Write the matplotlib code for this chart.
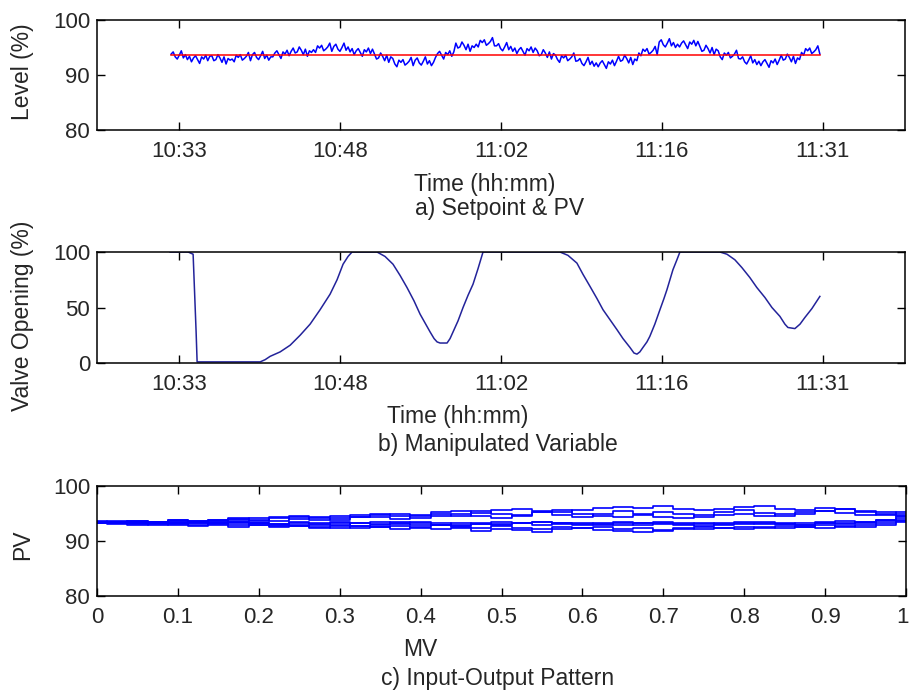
import numpy as np
import matplotlib.pyplot as plt
import matplotlib.transforms as mtransforms

plt.rcParams['font.family'] = ['Liberation Sans', 'DejaVu Sans']

# ---------------- data ----------------
# a) level PV (%) sampled evenly between t_start and t_end (minutes after 10:00)
t_start = 32.28
t_end = 90.73
setpoint = 93.7
pv = [93.8, 94.2, 93.3, 92.9, 93.6, 94.4, 93.1, 93.7, 92.8, 93.4,
      92.4, 93.1, 93.5, 92.8, 92.1, 93.3, 92.9, 93.6, 92.6, 93.4,
      93.5, 92.6, 92.8, 93.7, 93.1, 92.3, 93.3, 92.0, 93.0, 92.7,
      92.9, 92.4, 93.6, 93.2, 93.7, 92.7, 93.0, 93.4, 94.1, 92.6,
      93.7, 94.1, 93.2, 92.8, 93.5, 94.3, 93.0, 93.6, 92.7, 93.3,
      93.3, 94.0, 94.4, 93.7, 93.0, 94.2, 93.8, 94.5, 93.5, 94.3,
      94.9, 94.0, 94.2, 95.1, 94.5, 93.7, 94.7, 93.4, 94.4, 94.1,
      94.6, 94.1, 95.3, 94.9, 95.4, 94.4, 94.7, 95.1, 95.8, 94.3,
      95.2, 95.6, 94.7, 94.3, 95.0, 95.8, 94.5, 95.1, 94.2, 94.8,
      93.7, 94.4, 94.8, 94.1, 93.4, 94.6, 94.2, 94.9, 93.9, 94.7,
      93.8, 92.9, 93.1, 94.0, 93.4, 92.6, 93.6, 92.3, 93.3, 93.0,
      92.0, 91.5, 92.7, 92.3, 92.8, 91.8, 92.1, 92.5, 93.2, 91.7,
      92.7, 93.1, 92.2, 91.8, 92.5, 93.3, 92.0, 92.6, 91.7, 92.3,
      93.2, 93.9, 94.3, 93.6, 92.9, 94.1, 93.7, 94.4, 93.4, 94.2,
      95.8, 94.9, 95.1, 96.0, 95.4, 94.6, 95.6, 94.3, 95.3, 95.0,
      95.6, 95.1, 96.3, 95.9, 96.4, 95.4, 95.7, 96.1, 96.8, 95.3,
      95.3, 95.7, 94.8, 94.4, 95.1, 95.9, 94.6, 95.2, 94.3, 94.9,
      93.9, 94.6, 95.0, 94.3, 93.6, 94.8, 94.4, 95.1, 94.1, 94.9,
      94.4, 93.5, 93.7, 94.6, 94.0, 93.2, 94.2, 92.9, 93.9, 93.6,
      92.8, 92.3, 93.5, 93.1, 93.6, 92.6, 92.9, 93.3, 94.0, 92.5,
      92.6, 93.0, 92.1, 91.7, 92.4, 93.2, 91.9, 92.5, 91.6, 92.2,
      91.5, 92.2, 92.6, 91.9, 91.2, 92.4, 92.0, 92.7, 91.7, 92.5,
      93.4, 92.5, 92.7, 93.6, 93.0, 92.2, 93.2, 91.9, 92.9, 92.6,
      94.0, 93.5, 94.7, 94.3, 94.8, 93.8, 94.1, 94.5, 95.2, 93.7,
      96.0, 96.4, 95.5, 95.1, 95.8, 96.6, 95.3, 95.9, 95.0, 95.6,
      95.1, 95.8, 96.2, 95.5, 94.8, 96.0, 95.6, 96.3, 95.3, 96.1,
      95.2, 94.3, 94.5, 95.4, 94.8, 94.0, 95.0, 93.7, 94.7, 94.4,
      93.3, 92.8, 94.0, 93.6, 94.1, 93.1, 93.4, 93.8, 94.5, 93.0,
      92.9, 93.3, 92.4, 92.0, 92.7, 93.5, 92.2, 92.8, 91.9, 92.5,
      91.7, 92.4, 92.8, 92.1, 91.4, 92.6, 92.2, 92.9, 91.9, 92.7,
      93.6, 92.7, 92.9, 93.8, 93.2, 92.4, 93.4, 92.1, 93.1, 92.8,
      94.1, 93.6, 94.8, 94.4, 94.9, 93.9, 94.2, 94.6, 95.3, 93.8]

# b) valve opening (%), time in minutes after 10:00
mv_t = [32.19, 33.81, 34.26, 34.53, 34.62, 37.59, 40.30, 40.75, 41.20, 42.10,
        43.00, 43.90, 44.80, 45.70, 46.60, 47.23, 47.77, 48.22, 48.58,
        50.83, 51.55, 52.27, 52.90, 53.53, 54.16, 54.71, 55.16, 55.61, 55.97,
        56.24, 56.51, 57.14, 57.41, 57.68, 58.13, 58.58, 59.03, 59.48, 59.93, 60.38,
        67.31, 68.03, 68.84, 69.38, 70.02, 70.65, 71.19, 71.82, 72.45, 72.99,
        73.62, 73.98, 74.25, 74.51, 74.79, 75.15, 75.41, 75.86, 76.32, 76.68,
        76.95, 77.22, 77.49, 77.85, 78.12,
        81.72, 82.36, 83.07, 83.70, 84.42, 85.05, 85.78, 86.41, 87.13, 87.58,
        87.85, 88.48, 88.94, 89.38, 90.01, 90.73]
mv = [100, 100, 98, 28, 1, 1, 1, 3, 6, 10,
      16, 25, 35, 48, 62, 75, 89, 96, 100,
      100, 96, 89, 79, 68, 56, 44, 36, 28, 22,
      19, 18, 18, 22, 28, 38, 50, 61, 71, 85, 100,
      100, 97, 90, 80, 69, 58, 48, 39, 30, 22,
      14, 9, 8, 10, 14, 19, 24, 35, 48, 58,
      66, 75, 84, 93, 100,
      100, 98, 93, 86, 77, 68, 59, 50, 42, 35,
      32, 31, 35, 41, 49, 60]

time_ticks = [33, 47.5, 62, 76.5, 91]
time_labels = ['10:33', '10:48', '11:02', '11:16', '11:31']

# c) input-output pattern
mv_grid = [0.0, 0.025, 0.05, 0.075, 0.1, 0.125, 0.15, 0.175, 0.2, 0.225,
           0.25, 0.275, 0.3, 0.325, 0.35, 0.375, 0.4, 0.425, 0.45, 0.475,
           0.5, 0.525, 0.55, 0.575, 0.6, 0.625, 0.65, 0.675, 0.7, 0.725,
           0.75, 0.775, 0.8, 0.825, 0.85, 0.875, 0.9, 0.925, 0.95, 0.975, 1.0]
pv_c1 = [93.6, 93.4, 93.7, 93.5, 93.8, 93.6, 93.9, 94.1, 93.8, 94.2, 94.0, 94.4, 94.6, 94.3,
         94.8, 95.0, 94.7, 95.2, 95.4, 95.1, 95.6, 95.8, 95.4, 95.2, 95.7, 96.0, 96.2, 96.0,
         96.3, 95.9, 95.6, 95.9, 96.2, 96.3, 95.9, 95.7, 96.0, 95.8, 95.5, 95.2, 94.9]
pv_c2 = [93.4, 93.6, 93.3, 93.5, 93.2, 93.7, 93.4, 93.8, 94.2, 93.7, 94.3, 93.9, 94.1, 94.7,
         94.4, 94.0, 94.6, 94.9, 94.5, 95.4, 95.0, 94.6, 95.3, 95.6, 95.0, 94.6, 94.3, 94.8,
         95.2, 94.9, 94.4, 94.7, 95.0, 94.6, 94.9, 95.3, 95.5, 95.1, 94.8, 94.9, 94.6]
pv_c3 = [93.3, 93.1, 93.4, 93.2, 93.0, 93.3, 93.1, 93.4, 93.2, 93.0, 93.3, 93.1, 92.9, 93.2,
         93.4, 93.1, 92.9, 93.2, 93.0, 93.3, 93.1, 93.2, 93.0, 93.3, 93.1, 92.9, 93.2, 93.0,
         93.3, 93.1, 93.2, 93.0, 93.3, 93.1, 93.2, 93.0, 93.3, 93.1, 93.4, 93.6, 93.9]
pv_c4 = [93.5, 93.2, 93.0, 93.3, 93.6, 93.2, 93.8, 93.3, 92.9, 93.1, 92.7, 93.0, 93.3, 92.8,
         93.0, 93.2, 93.4, 93.0, 92.8, 93.1, 93.0, 93.3, 93.5, 93.1, 92.9, 93.2, 92.9, 93.3,
         93.4, 93.0, 92.8, 93.1, 93.4, 93.5, 93.1, 93.0, 93.3, 93.6, 93.2, 93.8, 94.2]
pv_c5 = [93.2, 93.4, 93.1, 92.9, 93.2, 92.8, 93.0, 92.6, 92.9, 92.5, 92.8, 92.4, 92.7, 92.3,
         92.5, 92.8, 92.4, 92.1, 92.3, 91.9, 92.2, 92.0, 91.7, 92.1, 92.4, 92.0, 91.8, 91.6,
         92.0, 92.3, 92.1, 92.4, 92.2, 92.5, 92.3, 92.6, 92.4, 92.8, 92.6, 93.0, 93.4]
pv_c6 = [93.4, 93.2, 93.5, 93.1, 93.4, 93.0, 93.3, 92.9, 93.2, 92.7, 93.0, 92.6, 92.4, 92.8,
         92.5, 92.2, 92.6, 92.9, 92.6, 92.3, 92.7, 92.4, 92.2, 92.5, 92.3, 92.6, 92.1, 92.4,
         91.9, 92.2, 92.5, 92.3, 92.6, 92.4, 92.7, 92.5, 92.9, 92.6, 93.0, 93.3, 93.7]
pv_c7 = [93.3, 93.5, 93.2, 93.4, 93.1, 93.4, 93.2, 93.5, 93.3, 93.1, 93.4, 93.2, 93.5, 93.3,
         93.1, 93.4, 93.2, 93.0, 93.3, 93.1, 93.4, 93.2, 93.4, 93.2, 93.3, 93.1, 93.4, 93.2,
         93.1, 93.3, 93.1, 93.3, 93.1, 93.3, 93.1, 93.2, 93.4, 93.3, 93.5, 93.8, 94.5]
pv_c8 = [93.5, 93.3, 93.6, 93.4, 93.9, 93.5, 93.7, 94.0, 93.6, 94.3, 94.6, 94.2, 93.9, 94.4,
         94.9, 94.5, 94.1, 94.5, 95.0, 94.6, 94.2, 94.8, 95.2, 94.7, 94.3, 94.9, 95.4, 95.0,
         94.4, 94.1, 94.7, 95.2, 95.6, 95.1, 94.5, 94.9, 95.4, 95.9, 95.3, 94.8, 95.3]
pv_c_lines = [pv_c1, pv_c2, pv_c3, pv_c4, pv_c5, pv_c6, pv_c7, pv_c8]

# ---------------- layout helpers ----------------
W, H = 909, 693
TXT = '#262626'
FS_TICK = 16
FS_LAB = 16.5


def box(left, top, right, bottom):
    return [left / W, 1 - bottom / H, (right - left) / W, (bottom - top) / H]


def ftext(x, y, s, **kw):
    fig.text(x / W, 1 - y / H, s, ha='center', va='center', color=TXT, fontsize=FS_LAB, **kw)


def style(ax):
    ax.tick_params(direction='in', length=6, width=1, top=True, right=True,
                   labelsize=FS_TICK, labelcolor=TXT, pad=8)
    ax.tick_params(axis='y', pad=5)
    for s in ax.spines.values():
        s.set_linewidth(1.1)


fig = plt.figure(figsize=(W / 100, H / 100), dpi=100)

# a) Setpoint & PV
ax1 = fig.add_axes(box(97, 20, 905, 130))
t_pv = np.linspace(t_start, t_end, len(pv))
ax1.plot(t_pv, pv, color='#0000ff', lw=1.1)
ax1.plot([t_start, t_end], [setpoint, setpoint], color='#ff0000', lw=1.1)
ax1.set_xlim(25.6, 98.4)
ax1.set_ylim(80, 100)
ax1.set_yticks([80, 90, 100])
ax1.set_xticks(time_ticks)
ax1.set_xticklabels(time_labels)
style(ax1)

# b) Manipulated variable
ax2 = fig.add_axes(box(97, 252, 905, 363))
ax2.plot(mv_t, mv, color='#23239a', lw=1.1)
ax2.set_xlim(25.6, 98.4)
ax2.set_ylim(0, 100)
ax2.set_yticks([0, 50, 100])
ax2.set_xticks(time_ticks)
ax2.set_xticklabels(time_labels)
style(ax2)

# c) Input-output pattern
ax3 = fig.add_axes(box(97, 486, 906, 596))
for line in pv_c_lines:
    ax3.plot(mv_grid, line, color='#0000ff', lw=1.2, drawstyle='steps-mid')
ax3.set_xlim(0, 1)
ax3.set_ylim(80, 100)
ax3.set_yticks([80, 90, 100])
ax3.set_xticks([0, 0.1, 0.2, 0.3, 0.4, 0.5, 0.6, 0.7, 0.8, 0.9, 1])
ax3.set_xticklabels(['0', '0.1', '0.2', '0.3', '0.4', '0.5', '0.6', '0.7', '0.8', '0.9', '1'])
style(ax3)
last = ax3.get_xticklabels()[-1]
last.set_horizontalalignment('right')
last.set_transform(last.get_transform() + mtransforms.ScaledTranslation(3 / 100, 0, fig.dpi_scale_trans))

# labels
ftext(23, 72, 'Level (%)', rotation=90)
ftext(23, 316, 'Valve Opening (%)', rotation=90)
ftext(23, 545, 'PV', rotation=90)
ftext(485, 184, 'Time (hh:mm)')
ftext(500, 209, 'a) Setpoint & PV')
ftext(458, 416, 'Time (hh:mm)')
ftext(498, 445, 'b) Manipulated Variable')
ftext(420, 649, 'MV')
ftext(498, 678, 'c) Input-Output Pattern')

fig.savefig('out.png', dpi=100)
